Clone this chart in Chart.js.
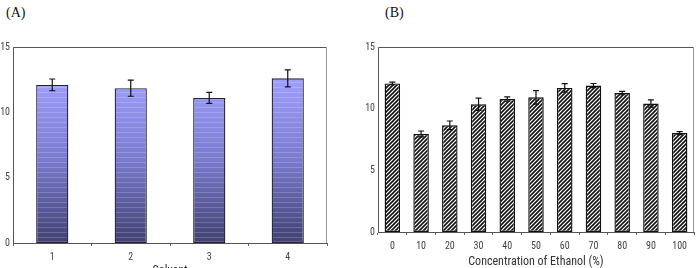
<!DOCTYPE html>
<html>
<head>
<meta charset="utf-8">
<script src="https://cdn.jsdelivr.net/npm/chart.js@4.4.1/dist/chart.umd.min.js"></script>
<style>
  html, body { margin:0; padding:0; background:#fff; overflow:hidden; width:698px; height:268px; }
  .panel { position:absolute; top:0; }
  .lbl { position:absolute; top:5px; font-family:'Liberation Serif','DejaVu Serif',serif; font-size:14px; color:#111; }
</style>
</head>
<body>
<div class="lbl" style="left:6px;">(A)</div>
<div class="lbl" style="left:385px;">(B)</div>
<div class="panel" style="left:0;width:331px;height:278px;"><canvas id="chartA"></canvas></div>
<div class="panel" style="left:350px;width:348px;height:268px;"><canvas id="chartB"></canvas></div>
<script>
// 数据 (A)
var solventLabels = ['1', '2', '3', '4'];
var solventValues = [12.1, 11.85, 11.1, 12.6];
var solventErrors = [0.45, 0.62, 0.42, 0.65];

// 数据 (B)
var ethanolLabels = ['0', '10', '20', '30', '40', '50', '60', '70', '80', '90', '100'];
var ethanolValues = [12.05, 7.95, 8.65, 10.35, 10.78, 10.92, 11.68, 11.87, 11.27, 10.42, 8.02];
var ethanolErrors = [0.1, 0.24, 0.35, 0.5, 0.18, 0.55, 0.35, 0.17, 0.14, 0.3, 0.12];

var yTicks = [0, 5, 10, 15];
var condensed = "'Roboto Condensed','DejaVu Sans Condensed',sans-serif";
var tickFont = { family: condensed, size: 10 };

// 误差线 + 外框
var errorBarPlugin = {
  id: 'errorBars',
  afterDatasetsDraw: function(chart, args, opts) {
    var ctx = chart.ctx;
    var meta = chart.getDatasetMeta(0);
    var y = chart.scales.y;
    var vals = chart.data.datasets[0].data;
    ctx.save();
    ctx.strokeStyle = '#111';
    ctx.lineWidth = 1.2;
    meta.data.forEach(function(bar, i) {
      var hi = y.getPixelForValue(vals[i] + opts.errors[i]);
      var lo = y.getPixelForValue(vals[i] - opts.errors[i]);
      var cap = opts.cap;
      ctx.beginPath();
      ctx.moveTo(bar.x, hi); ctx.lineTo(bar.x, lo);
      ctx.moveTo(bar.x - cap, hi); ctx.lineTo(bar.x + cap, hi);
      ctx.moveTo(bar.x - cap, lo); ctx.lineTo(bar.x + cap, lo);
      ctx.stroke();
    });
    ctx.restore();
  },
  beforeDatasetsDraw: function(chart) {
    var a = chart.chartArea, ctx = chart.ctx;
    ctx.save();
    ctx.lineWidth = 1;
    ctx.strokeStyle = '#555';
    ctx.beginPath();
    ctx.moveTo(a.left + 0.5, a.bottom); ctx.lineTo(a.left + 0.5, a.top + 0.5); ctx.lineTo(a.right, a.top + 0.5);
    ctx.stroke();
    ctx.strokeStyle = '#999';
    ctx.beginPath();
    ctx.moveTo(a.right - 0.5, a.top); ctx.lineTo(a.right - 0.5, a.bottom);
    ctx.stroke();
    ctx.restore();
  }
};

// 渐变条纹填充
function stripeFill(context) {
  var chart = context.chart;
  var area = chart.chartArea;
  if (!area) return '#8080e0';
  var c = document.createElement('canvas');
  c.width = 4; c.height = chart.height;
  var g = c.getContext('2d');
  var grad = g.createLinearGradient(0, area.top + 30, 0, area.bottom);
  grad.addColorStop(0, '#a0a0ff');
  grad.addColorStop(0.5, '#7a7ace');
  grad.addColorStop(1, '#414172');
  g.fillStyle = grad;
  g.fillRect(0, 0, 4, c.height);
  g.fillStyle = 'rgba(255,255,255,0.18)';
  for (var yy = Math.round(area.top); yy < area.bottom; yy += 5) {
    g.fillRect(0, yy, 4, 1);
  }
  return g.createPattern(c, 'repeat');
}

// 斜线填充
function hatchFill() {
  var c = document.createElement('canvas');
  c.width = 4; c.height = 4;
  var g = c.getContext('2d');
  g.fillStyle = '#fff';
  g.fillRect(0, 0, 4, 4);
  g.strokeStyle = '#111';
  g.lineWidth = 1.6;
  g.beginPath();
  g.moveTo(0, 4); g.lineTo(4, 0);
  g.moveTo(-1, 1); g.lineTo(1, -1);
  g.moveTo(3, 5); g.lineTo(5, 3);
  g.stroke();
  return g.createPattern(c, 'repeat');
}

function makeOptions(yWidth, xHeight, xTitle, errors, cap, padTop, titlePadBottom) {
  return {
    responsive: true,
    maintainAspectRatio: false,
    animation: false,
    layout: { padding: { top: padTop, right: 4, left: 0, bottom: 0 } },
    plugins: {
      legend: { display: false },
      tooltip: { enabled: false },
      errorBars: { errors: errors, cap: cap }
    },
    scales: {
      x: {
        grid: { display: true, drawOnChartArea: false, offset: true, tickLength: 3, color: '#666' },
        border: { color: '#555', width: 1 },
        ticks: { color: '#444', font: tickFont, padding: 5 },
        title: { display: true, text: xTitle, color: '#333',
                 font: { family: condensed, size: 12 },
                 padding: { top: 1, bottom: titlePadBottom } },
        afterFit: function(s) { s.height = xHeight; }
      },
      y: {
        min: 0, max: 15,
        afterBuildTicks: function(s) { s.ticks = yTicks.map(function(v) { return { value: v }; }); },
        grid: { display: false, drawTicks: false },
        border: { display: false },
        ticks: { color: '#444', font: tickFont, padding: 3 },
        afterFit: function(s) { s.width = yWidth; }
      }
    }
  };
}

new Chart(document.getElementById('chartA'), {
  type: 'bar',
  data: {
    labels: solventLabels,
    datasets: [{
      data: solventValues,
      backgroundColor: stripeFill,
      borderColor: '#22223a',
      borderWidth: 1.3,
      borderSkipped: false,
      categoryPercentage: 1,
      barPercentage: 0.41
    }]
  },
  options: makeOptions(13, 35, 'Solvent', solventErrors, 3, 47, 0),
  plugins: [errorBarPlugin]
});

new Chart(document.getElementById('chartB'), {
  type: 'bar',
  data: {
    labels: ethanolLabels,
    datasets: [{
      data: ethanolValues,
      backgroundColor: hatchFill(),
      borderColor: '#111',
      borderWidth: 1.4,
      borderSkipped: false,
      categoryPercentage: 1,
      barPercentage: 0.54
    }]
  },
  options: makeOptions(28, 36, 'Concentration of Ethanol (%)', ethanolErrors, 3, 47, -1),
  plugins: [errorBarPlugin]
});
</script>
</body>
</html>
